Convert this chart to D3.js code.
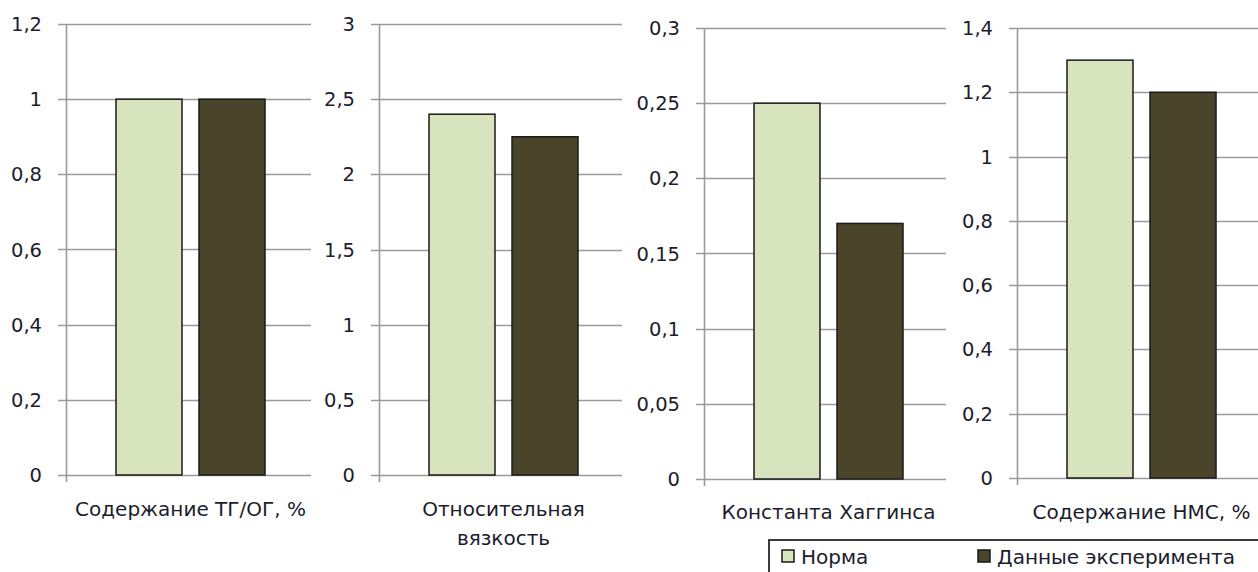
<!DOCTYPE html>
<html>
<head>
<meta charset="utf-8">
<script src="https://cdn.jsdelivr.net/npm/d3@7"></script>
<style>
  html, body { margin: 0; padding: 0; background: #fff; }
  svg { display: block; }
  text { font-family: "DejaVu Sans", Verdana, sans-serif; fill: #1c1c2c; }
</style>
</head>
<body>
<svg id="chart" width="1258" height="572"></svg>
<script>
// ---- data ----
const categories = ["Содержание ТГ/ОГ, %", "Относительная вязкость", "Константа Хаггинса", "Содержание НМС, %"];
const categoryLines = [["Содержание ТГ/ОГ, %"], ["Относительная", "вязкость"], ["Константа Хаггинса"], ["Содержание НМС, %"]];
const seriesNames = ["Норма", "Данные эксперимента"];
const normValues = [1, 2.4, 0.25, 1.3];
const expValues = [1, 2.25, 0.17, 1.2];
const yMaxes = [1.2, 3, 0.3, 1.4];
const tickSteps = [0.2, 0.5, 0.05, 0.2];

// ---- layout ----
const colors = ["#d7e4bd", "#4a442a"];
const axisX = [66, 379, 704, 1017];
const gridEnd = [311, 622, 946, 1258];
const yTop = [24, 24, 28, 28];
const yBottom = [475, 475, 479, 478];
const clusterW = 249;

const locale = d3.formatLocale({decimal: ",", thousands: " ", grouping: [3], currency: ["", ""]});
const fmt = v => locale.format("~g")(+v.toFixed(4));

const svg = d3.select("#chart");

categories.forEach((cat, i) => {
  const g = svg.append("g");
  const y = d3.scaleLinear().domain([0, yMaxes[i]]).range([yBottom[i], yTop[i]]);
  const ticks = d3.range(0, yMaxes[i] + tickSteps[i] / 2, tickSteps[i]);

  // gridlines (with tick stubs)
  g.selectAll("line.grid").data(ticks).join("line")
    .attr("x1", axisX[i] - 8).attr("x2", gridEnd[i])
    .attr("y1", d => Math.round(y(d)) + 0.5).attr("y2", d => Math.round(y(d)) + 0.5)
    .attr("stroke", "#9a9a9a").attr("stroke-width", 1.6);

  // y axis line
  g.append("line")
    .attr("x1", axisX[i] + 0.5).attr("x2", axisX[i] + 0.5)
    .attr("y1", y(yMaxes[i])).attr("y2", y(0) + 7)
    .attr("stroke", "#9a9a9a").attr("stroke-width", 1.6);

  // tick labels
  g.selectAll("text.tick").data(ticks).join("text")
    .attr("x", axisX[i] - 24).attr("y", d => y(d))
    .attr("dy", "0.36em")
    .attr("text-anchor", "end")
    .attr("font-size", 19.5)
    .text(d => fmt(d));

  // bars
  const x0 = d3.scaleBand().domain([cat]).range([axisX[i], axisX[i] + clusterW]).padding(0);
  const x1 = d3.scaleBand().domain(seriesNames).range([50, 50 + 149]).paddingInner(0.205).paddingOuter(0);
  const vals = [normValues[i], expValues[i]];
  g.selectAll("rect.bar").data(seriesNames).join("rect")
    .attr("x", s => x0(cat) + x1(s))
    .attr("y", (s, k) => y(vals[k]))
    .attr("width", x1.bandwidth())
    .attr("height", (s, k) => y(0) - y(vals[k]))
    .attr("fill", (s, k) => colors[k])
    .attr("stroke", "#1a1a1a").attr("stroke-width", 1.5);

  // category label
  const cx = x0(cat) + x0.bandwidth() / 2;
  const baseY = (i < 2 ? 516 : 519);
  g.selectAll("text.cat").data(categoryLines[i]).join("text")
    .attr("x", cx).attr("y", (d, k) => baseY + k * 29)
    .attr("text-anchor", "middle")
    .attr("font-size", 20)
    .text(d => d);
});

// legend
const leg = svg.append("g");
leg.append("rect")
  .attr("x", 769).attr("y", 540).attr("width", 520).attr("height", 60)
  .attr("fill", "#fff").attr("stroke", "#3a3a3a").attr("stroke-width", 2);
const legX = [781, 977];
seriesNames.forEach((s, k) => {
  leg.append("rect")
    .attr("x", legX[k] + 1).attr("y", 550).attr("width", 12).attr("height", 12)
    .attr("fill", colors[k]).attr("stroke", "#1a1a1a").attr("stroke-width", 1.5);
  leg.append("text")
    .attr("x", legX[k] + 20).attr("y", 564)
    .attr("font-size", 20)
    .text(s);
});
</script>
</body>
</html>
